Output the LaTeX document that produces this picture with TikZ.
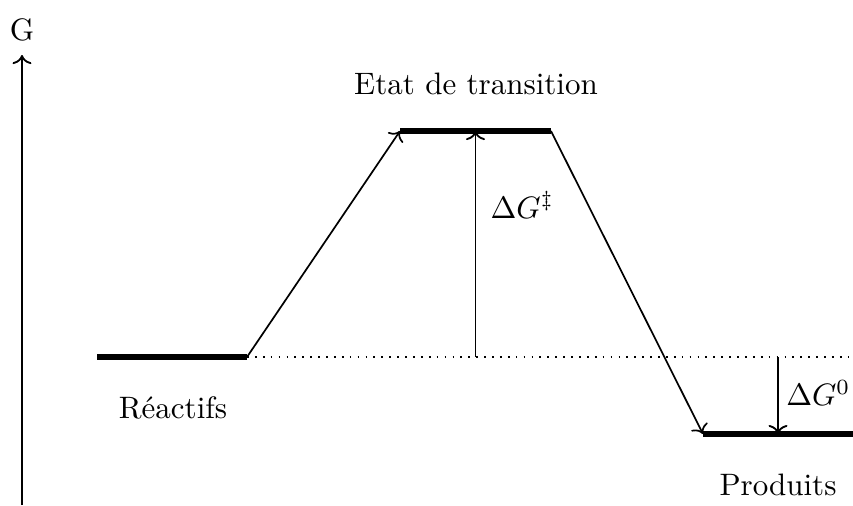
\documentclass[tikz,border=0pt]{standalone}
\usepackage{tikz}
\usepackage{amsmath}
\usepackage{amssymb}
\usetikzlibrary{
  arrows.meta,
  positioning,
  calc
}
\tikzset{
  level/.style={line width=1.9pt},
  path/.style={->, line width=0.55pt},
  gap/.style={->, line width=0.6pt},
  base/.style={dotted, line width=0.55pt},
  axisline/.style={->, line width=0.6pt},
  tag/.style={inner sep=1pt}
}

\begin{document}
\begin{tikzpicture}[x=0.3226pt, y=-0.3226pt]
  \useasboundingbox (0,0) rectangle (853,505);
  % energy levels
  \coordinate (r1) at (97,357);
  \coordinate (r2) at (247,357);
  \coordinate (t1) at (400,131);
  \coordinate (t2) at (551,131);
  \coordinate (p1) at (703,434);
  \coordinate (p2) at (853,434);
  \coordinate (tm) at ($(t1)!0.5!(t2)$);
  \coordinate (pm) at ($(p1)!0.5!(p2)$);
  \coordinate (e) at (853,357);
  \coordinate (tb) at (tm |- r2);
  \coordinate (pb) at (pm |- r2);
  \coordinate (o) at (22,505);
  \coordinate (g) at (22,55);
  \draw[axisline] (o) -- (g);
  \node[tag] (glabel) at (22,30) {G};
  \draw[level] (r1) -- (r2);
  \draw[level] (t1) -- (t2);
  \draw[level] (p1) -- (p2);
  \draw[base] (r2) -- (e);
  \draw[path] (r2) -- (t1);
  \draw[path] (t2) -- (p1);
  \draw[gap] (tb) -- (tm);
  \draw[gap] (pb) -- (pm);
  \node[tag] (ts) at (476,84) {Etat de transition};
  \node[tag] (re) at (173,408) {Réactifs};
  \node[tag] (pr) at (778,485) {Produits};
  \node[tag, anchor=west, inner sep=0pt] (dg1) at (490,205) {$\Delta G^{\ddagger}$};
  \node[tag, anchor=east, inner sep=0pt] (dg0) at (851,393) {$\Delta G^{0}$};
\end{tikzpicture}
\end{document}
